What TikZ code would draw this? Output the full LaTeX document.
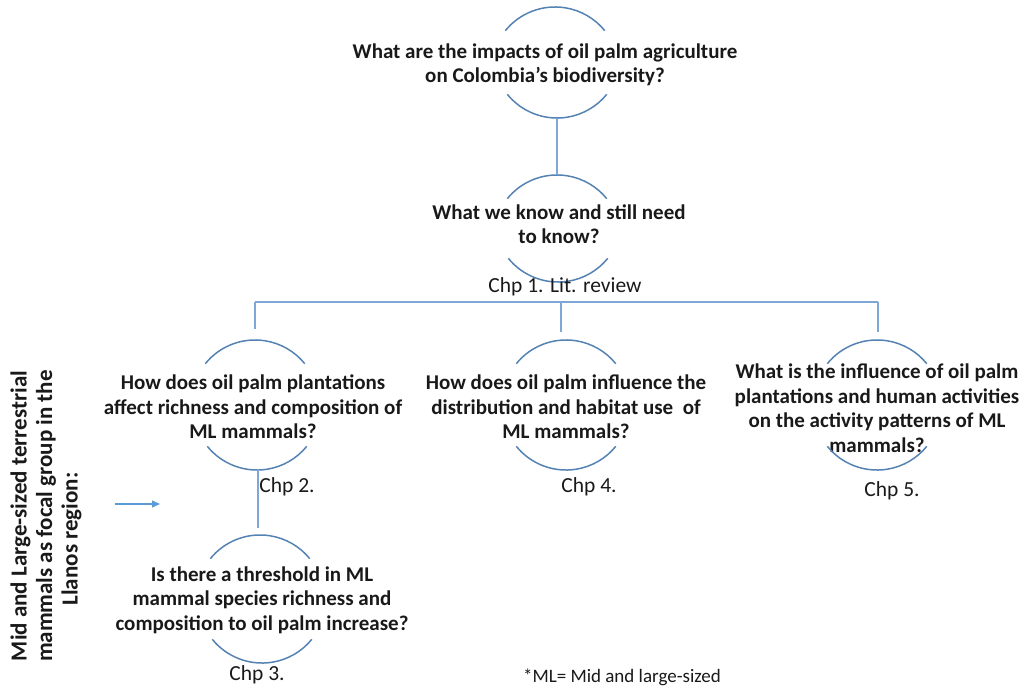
\documentclass[tikz,border=0pt]{standalone}
\usepackage{fontspec}
\setmainfont{Carlito}
\usetikzlibrary{arrows.meta}
\definecolor{arccol}{RGB}{84,130,178}
\definecolor{linecol}{RGB}{126,166,214}
\definecolor{arrowcol}{RGB}{91,155,213}
\definecolor{txt}{RGB}{25,25,25}
\begin{document}
\begin{tikzpicture}[x=1pt,y=1pt,
  q/.style={align=center,font=\fontsize{21}{24.5}\selectfont\bfseries,inner sep=0pt,text=txt},
  chp/.style={font=\fontsize{21.5}{24}\selectfont,inner sep=0pt,text=txt},
  arcline/.style={draw=arccol,line width=1.5pt},
  conn/.style={draw=linecol,line width=1.4pt},
  toparc/.pic={\draw[arcline] (-49.7,-23.7) arc[start angle=141,end angle=39,radius=64pt];},
  botarc/.pic={\draw[arcline] (-49.7,23.7) arc[start angle=219,end angle=321,radius=64pt];}
]
\useasboundingbox (0,0) rectangle (1024,-687);

% Title
\node[q] (A) at (545,-65) {What are the impacts of oil palm agriculture\\on Colombia’s biodiversity?};
\coordinate (At) at (555,-7); \coordinate (Ab) at (557,-118);
\pic at (At) {toparc}; \pic at (Ab) {botarc};

% Chapter 1
\node[q] (B) at (559,-224) {What we know and still need\\to know?};
\coordinate (Bt) at (557,-175); \coordinate (Bb) at (558,-282);
\pic at (Bt) {toparc}; \pic at (Bb) {botarc};
\node[chp] (B1) at (565,-287) {Chp 1. Lit. review};

% Chapter 2
\node[q] (C) at (253,-407) {How does oil palm plantations\\affect richness and composition of\\ML mammals?};
\coordinate (Ct) at (255,-340); \coordinate (Cb) at (257,-470);
\pic at (Ct) {toparc}; \pic at (Cb) {botarc};
\node[chp] (C1) at (287,-487) {Chp 2.};

% Chapter 4
\node[q] (D) at (566,-407) {How does oil palm influence the\\distribution and habitat use\ \ of\\ML mammals?};
\coordinate (Dt) at (566,-340); \coordinate (Db) at (566,-470);
\pic at (Dt) {toparc}; \pic at (Db) {botarc};
\node[chp] (D1) at (589,-487) {Chp 4.};

% Chapter 5
\node[q] (E) at (877,-408) {What is the influence of oil palm\\plantations and human activities\\on the activity patterns of ML\\mammals?};
\coordinate (Et) at (877,-340); \coordinate (Eb) at (877,-470);
\pic at (Et) {toparc}; \pic at (Eb) {botarc};
\node[chp] (E1) at (892,-491) {Chp 5.};

% Chapter 3
\node[q] (F) at (262,-600) {Is there a threshold in ML\\mammal species richness and\\composition to oil palm increase?};
\coordinate (Ft) at (260,-535); \coordinate (Fb) at (262,-663);
\pic at (Ft) {toparc}; \pic at (Fb) {botarc};
\node[chp] (F1) at (257,-675) {Chp 3.};

% Left rotated label
\node[q,rotate=90,font=\fontsize{23}{25.5}\selectfont\bfseries] (L) at (46,-516) {Mid and Large-sized terrestrial\\mammals as focal group in the\\Llanos region:\hspace*{46pt}};

% Footnote
\node[chp,font=\fontsize{19}{22}\selectfont] (fn) at (622,-677) {*ML= Mid and large-sized};

% Connectors
\coordinate (barL) at (255,-302);
\coordinate (barM) at (561,-302);
\coordinate (barR) at (878,-302);
\coordinate (Cin) at (255,-329);
\coordinate (Din) at (561,-332);
\coordinate (Ein) at (878,-332);
\coordinate (Cout) at (258,-470);
\coordinate (Fin) at (258,-528);
\draw[conn] (Ab) -- (Bt);
\draw[conn] (barL) -- (barR);
\draw[conn] (barL) -- (Cin);
\draw[conn] (barM) -- (Din);
\draw[conn] (barR) -- (Ein);
\draw[conn] (Cout) -- (Fin);

% Arrow
\coordinate (arS) at (115,-504);
\coordinate (arE) at (160,-504);
\draw[arrowcol,line width=1.2pt,-{Triangle[length=8pt,width=7pt]}] (arS) -- (arE);
\end{tikzpicture}
\end{document}
